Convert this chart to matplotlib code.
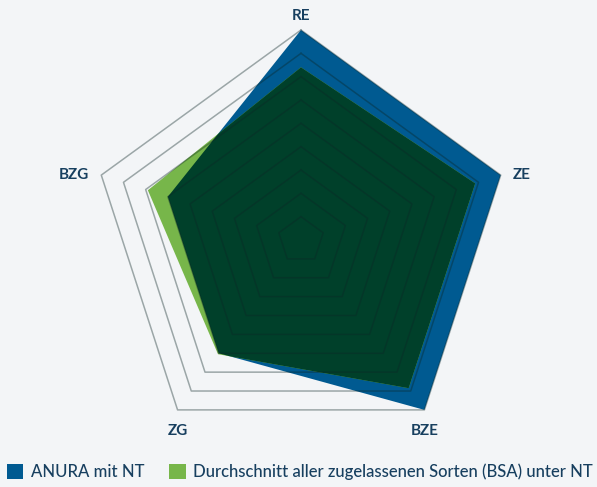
import numpy as np
import matplotlib.pyplot as plt
from matplotlib.colors import to_rgb
from matplotlib.patches import Polygon, Patch

# Merkmale (im Uhrzeigersinn ab oben)
categories = ["RE", "ZE", "BZE", "ZG", "BZG"]
anura = [9.0, 9.0, 9.0, 6.0, 6.0]
bsa = [7.4, 7.85, 7.85, 6.05, 6.9]
levels = [1, 2, 3, 4, 5, 6, 7, 8, 9]
series_names = ["ANURA mit NT", "Durchschnitt aller zugelassenen Sorten (BSA) unter NT"]

bg = "#f3f5f7"
blue = "#005a91"
green = "#77b64a"
text_col = "#173f5f"
# Überlappung: Multiplikation der beiden Farben
overlap = tuple(np.array(to_rgb(blue)) * np.array(to_rgb(green)))

angles = np.pi / 2 - np.arange(len(categories)) * 2 * np.pi / len(categories)


def to_xy(values):
    values = np.asarray(values, dtype=float)
    return np.column_stack([values * np.cos(angles), values * np.sin(angles)])


plt.rcParams["font.family"] = ["Lato", "DejaVu Sans"]
fig = plt.figure(figsize=(5.97, 4.87), dpi=100, facecolor=bg)
ax = fig.add_axes([0, 0, 1, 1])
ax.set_facecolor(bg)

unit = 210 / 9  # Pixel pro Skaleneinheit
cx, cy = 301, 240
ax.set_xlim(-cx / unit, (597 - cx) / unit)
ax.set_ylim(-(487 - cy) / unit, cy / unit)
ax.set_aspect("equal")
ax.axis("off")

p_blue = Polygon(to_xy(anura), closed=True, facecolor=blue, edgecolor="none", zorder=2)
p_green = Polygon(to_xy(bsa), closed=True, facecolor=green, edgecolor="none", zorder=2)
ax.add_patch(p_blue)
ax.add_patch(p_green)
p_both = Polygon(to_xy(bsa), closed=True, facecolor=overlap, edgecolor="none", zorder=3)
ax.add_patch(p_both)
p_both.set_clip_path(p_blue)

# Gitter (Fünfecke)
for lv in levels:
    pts = to_xy([lv] * len(categories))
    pts = np.vstack([pts, pts[:1]])
    ax.plot(pts[:, 0], pts[:, 1], color="#0c2626", alpha=0.38, lw=1.1, zorder=4)

# Achsenbeschriftungen
offsets = {"RE": (0, 5, "center", "bottom"),
           "ZE": (9, 0, "left", "center"),
           "BZE": (0, -10, "center", "top"),
           "ZG": (0, -10, "center", "top"),
           "BZG": (-9, 0, "right", "center")}
outer = to_xy([levels[-1]] * len(categories))
for (x, y), lab in zip(outer, categories):
    dx, dy, ha, va = offsets[lab]
    ax.annotate(lab, (x, y), xytext=(dx, dy), textcoords="offset points",
                ha=ha, va=va, fontsize=11, fontweight="bold", color=text_col)

handles = [Patch(facecolor=blue, edgecolor="none"), Patch(facecolor=green, edgecolor="none")]
leg = fig.legend(handles, series_names, loc="lower left", bbox_to_anchor=(0.0, 0.0), ncol=2,
                 frameon=False, fontsize=12, handlelength=1.0, handleheight=1.0,
                 handletextpad=0.45, columnspacing=1.5, borderaxespad=0.1,
                 borderpad=0.3)
for t in leg.get_texts():
    t.set_color(text_col)
    t.set_fontweight("medium")

fig.savefig("out.png", dpi=100, facecolor=bg)
